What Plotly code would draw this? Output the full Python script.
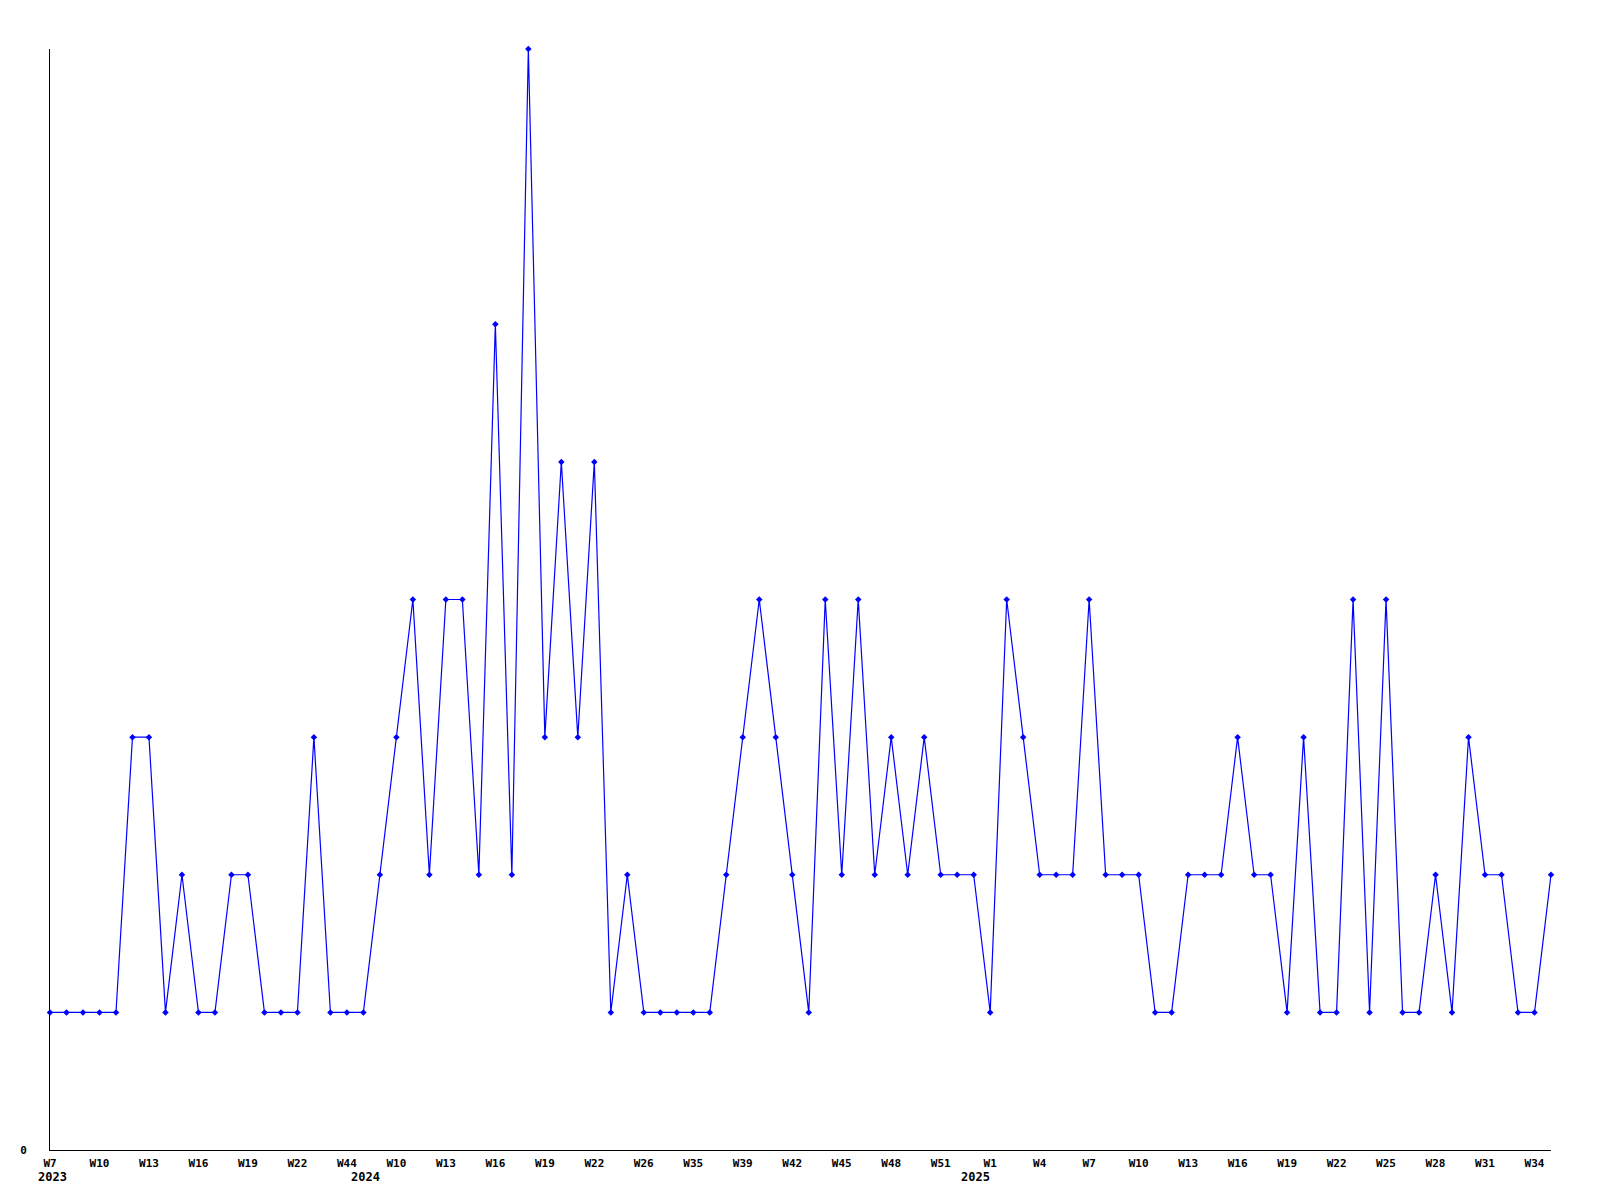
import plotly.graph_objects as go

# ---- data ----
years = [2023] * 19 + [2024] * 37 + [2025] * 36
weeks = [7, 8, 9, 10, 11, 12, 13, 14, 15, 16, 17, 18, 19, 20, 21, 22, 23, 24, 44,
         8, 9, 10, 11, 12, 13, 14, 15, 16, 17, 18, 19, 20, 21, 22, 23, 24, 26, 28, 31,
         35, 36, 38, 39, 40, 41, 42, 43, 44, 45, 46, 47, 48, 49, 50, 51, 52,
         0, 1, 2, 3, 4, 5, 6, 7, 8, 9, 10, 11, 12, 13, 14, 15, 16, 17, 18, 19, 20,
         21, 22, 23, 24, 25, 26, 27, 28, 29, 30, 31, 32, 33, 34, 35]
values = [1, 1, 1, 1, 1, 3, 3, 1, 2, 1, 1, 2, 2, 1, 1, 1, 3, 1, 1,
          1, 2, 3, 4, 2, 4, 4, 2, 6, 2, 8, 3, 5, 3, 5, 1, 2, 1, 1, 1,
          1, 1, 2, 3, 4, 3, 2, 1, 4, 2, 4, 2, 3, 2, 3, 2, 2,
          2, 1, 4, 3, 2, 2, 2, 4, 2, 2, 2, 1, 1, 2, 2, 2, 3, 2, 2, 1, 3,
          1, 1, 4, 1, 4, 1, 1, 2, 1, 3, 2, 2, 1, 1, 2]

categories = [f"{y}-W{w:02d}" for y, w in zip(years, weeks)]
tick_every = 3
tickvals = categories[::tick_every]
ticktext = [f"W{w}" for w in weeks[::tick_every]]

# first point of each year gets a year label
year_first = {}
for c, y in zip(categories, years):
    year_first.setdefault(y, c)

FONT = "DejaVu Sans Mono"

fig = go.Figure()
fig.add_trace(go.Scatter(
    x=categories, y=values, mode="lines+markers",
    line=dict(color="#0000FF", width=1.2),
    marker=dict(symbol="diamond", size=5, color="#0000FF"),
    cliponaxis=False, showlegend=False,
))

for y, c in year_first.items():
    fig.add_annotation(x=c, y=0, yref="paper", yshift=-27, xshift=2, text=str(y),
                       showarrow=False, xanchor="center", yanchor="middle",
                       font=dict(family=FONT, size=12, color="black", weight="bold"))

fig.update_xaxes(
    type="category", categoryorder="array", categoryarray=categories,
    range=[0, len(categories) - 1],
    tickmode="array", tickvals=tickvals, ticktext=ticktext, tickangle=0,
    showline=True, linecolor="black", linewidth=1, showgrid=False, zeroline=False,
    ticks="", ticklabelstandoff=3,
    tickfont=dict(family=FONT, size=11, color="black", weight="bold"),
)
fig.update_yaxes(
    range=[0, 8], tickmode="array", tickvals=[0], ticktext=["0"],
    showline=True, linecolor="black", linewidth=1, showgrid=False, zeroline=False,
    ticks="", ticklabelstandoff=20,
    tickfont=dict(family=FONT, size=11, color="black", weight="bold"),
)
fig.update_layout(
    width=1584, height=1184,
    margin=dict(l=42, r=41, t=41, b=42),
    plot_bgcolor="white", paper_bgcolor="white",
)
fig.write_html("out.html")
